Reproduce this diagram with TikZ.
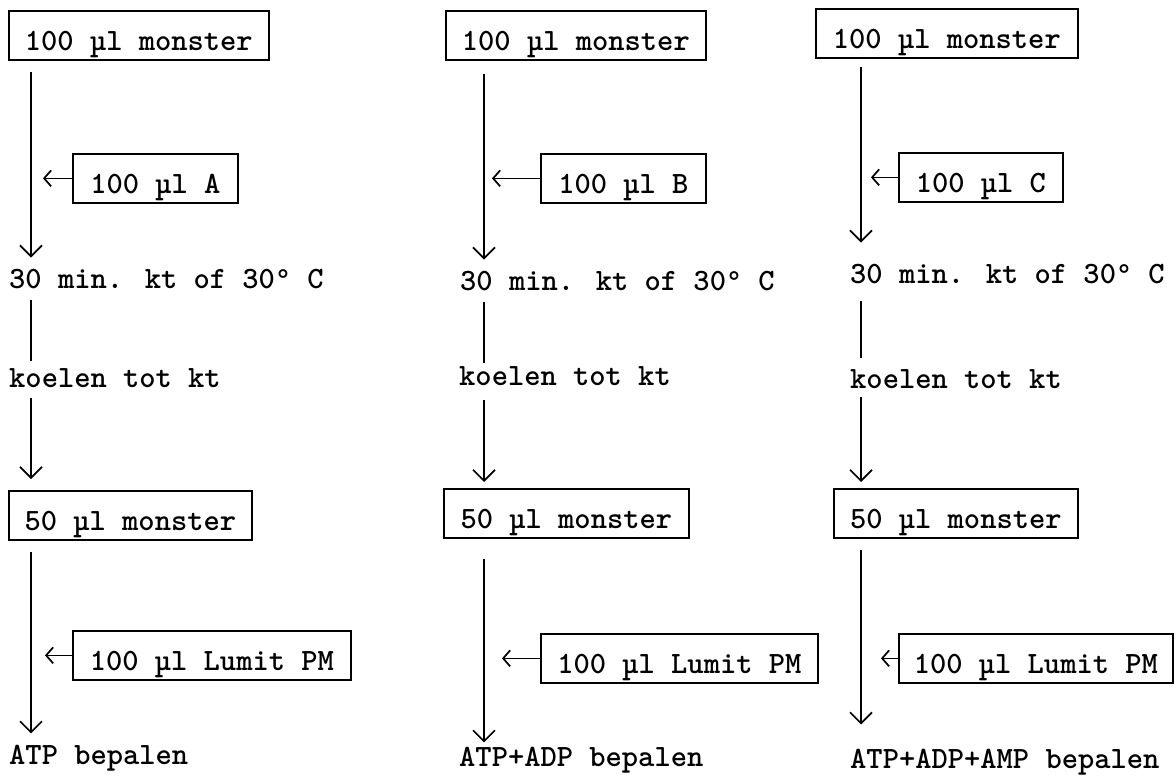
\documentclass[tikz,border=0pt]{standalone}
\usepackage{tikz}
\usetikzlibrary{positioning, arrows.meta}

\newcommand{\grd}{{\mdseries °}}

\begin{document}
\begin{tikzpicture}[
    x=1pt, y=-1pt,
    font=\ttfamily\bfseries\fontsize{31pt}{37pt}\selectfont,
    box/.style={draw, line width=1.7pt, inner xsep=0pt, inner ysep=0pt, text height=40pt, text depth=9pt, anchor=north west},
    stage/.style={inner sep=0pt, anchor=base west},
    flow/.style={line width=1.7pt, -{Straight Barb[length=11pt, width=22pt]}, shorten <=11pt, shorten >=11pt},
    feed/.style={line width=1.7pt, -{Straight Barb[length=7pt, width=16pt]}, shorten >=12pt}
]
\useasboundingbox (0,0) rectangle (1176,776);

% kolom A
\coordinate (c1) at (31,0);
\node[box, minimum width=260pt] (m1) at (8,10) {100 µl monster};
\node[box, minimum width=165pt] (sA) at (72,153) {100 µl A};
\node[stage] (t1) at (9,288) {30 min. kt of 30\grd{} C};
\node[stage] (k1) at (9,387) {koelen tot kt};
\node[box, minimum width=243pt] (f1) at (8,490) {50 µl monster};
\node[box, minimum width=278pt] (l1) at (72,630) {100 µl Lumit PM};
\node[stage] (r1) at (9,764) {ATP bepalen};

\draw[flow] (m1.south -| c1) -- (t1.north -| c1);
\draw[feed] (sA.west) -- (sA.west -| c1);
\draw[flow, -, shorten >=7pt] (t1.south -| c1) -- (k1.north -| c1);
\draw[flow] (k1.south -| c1) -- (f1.north -| c1);
\draw[flow] (f1.south -| c1) -- (r1.north -| c1);
\draw[feed, shorten >=14pt] (l1.west) -- (l1.west -| c1);

% kolom B
\coordinate (c2) at (484,0);
\node[box, minimum width=260pt] (m2) at (445,10) {100 µl monster};
\node[box, minimum width=165pt] (sB) at (540,153) {100 µl B};
\node[stage] (t2) at (460,290) {30 min. kt of 30\grd{} C};
\node[stage] (k2) at (459,385) {koelen tot kt};
\node[box, minimum width=245pt] (f2) at (443,488) {50 µl monster};
\node[box, minimum width=277pt] (l2) at (540,633) {100 µl Lumit PM};
\node[stage] (r2) at (459,766) {ATP+ADP bepalen};

\draw[flow, shorten <=13pt] (m2.south -| c2) -- (t2.north -| c2);
\draw[feed, shorten >=8pt] (sB.west) -- (sB.west -| c2);
\draw[flow, -, shorten >=3pt] (t2.south -| c2) -- (k2.north -| c2);
\draw[flow, shorten <=15pt, shorten >=6pt] (k2.south -| c2) -- (f2.north -| c2);
\draw[flow, shorten <=20pt, shorten >=4pt] (f2.south -| c2) -- (r2.north -| c2);
\draw[feed, shorten >=18pt] (l2.west) -- (l2.west -| c2);

% kolom C
\coordinate (c3) at (861,0);
\node[box, minimum width=262pt] (m3) at (815,8) {100 µl monster};
\node[box, minimum width=164pt] (sC) at (898,152) {100 µl C};
\node[stage] (t3) at (850,283) {30 min. kt of 30\grd{} C};
\node[stage] (k3) at (850,388) {koelen tot kt};
\node[box, minimum width=244pt] (f3) at (833,488) {50 µl monster};
\node[box, minimum width=274pt] (l3) at (898,633) {100 µl Lumit PM};
\node[stage] (r3) at (850,768) {ATP+ADP+AMP bepalen};

\draw[flow, shorten <=8pt, shorten >=21pt] (m3.south -| c3) -- (t3.north -| c3);
\draw[feed, shorten >=10pt] (sC.west) -- (sC.west -| c3);
\draw[flow, -, shorten <=17pt] (t3.south -| c3) -- (k3.north -| c3);
\draw[flow, shorten <=9pt, shorten >=6pt] (k3.south -| c3) -- (f3.north -| c3);
\draw[flow, shorten >=24pt] (f3.south -| c3) -- (r3.north -| c3);
\draw[feed, shorten >=20pt] (l3.west) -- (l3.west -| c3);
\end{tikzpicture}
\end{document}
